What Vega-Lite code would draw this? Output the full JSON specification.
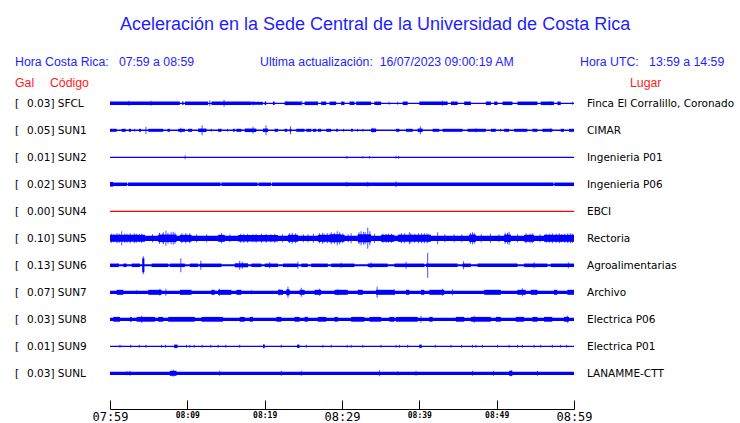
{
"$schema":"https://vega.github.io/schema/vega-lite/v6.json",
"width":464,"height":409,
"autosize":{"type":"none"},
"padding":{"left":110,"top":0,"right":166,"bottom":14},
"background":"white",
"config":{"view":{"stroke":null},"scale":{"continuousPadding":0},
 "axisX":{"grid":false,"domain":true,"domainColor":"black","domainWidth":1,"tickColor":"black","tickSize":-9,"labelFlush":false,"labelOverlap":false,"labelBaseline":"top","labelPadding":11,"labelColor":"black","labelFont":"DejaVu Sans Mono","titleColor":"rgba(0,0,0,0)"},
 "axisY":{"disable":true}},
"datasets":{
"stations":[
{"s":"SFCL","i":1,"lab":"0.03] SFCL","lugar":"Finca El Corralillo, Coronado"},
{"s":"SUN1","i":2,"lab":"0.05] SUN1","lugar":"CIMAR"},
{"s":"SUN2","i":3,"lab":"0.01] SUN2","lugar":"Ingenieria P01"},
{"s":"SUN3","i":4,"lab":"0.02] SUN3","lugar":"Ingenieria P06"},
{"s":"SUN4","i":5,"lab":"0.00] SUN4","lugar":"EBCI"},
{"s":"SUN5","i":6,"lab":"0.10] SUN5","lugar":"Rectoria"},
{"s":"SUN6","i":7,"lab":"0.13] SUN6","lugar":"Agroalimentarias"},
{"s":"SUN7","i":8,"lab":"0.07] SUN7","lugar":"Archivo"},
{"s":"SUN8","i":9,"lab":"0.03] SUN8","lugar":"Electrica P06"},
{"s":"SUN9","i":10,"lab":"0.01] SUN9","lugar":"Electrica P01"},
{"s":"SUNL","i":11,"lab":"0.03] SUNL","lugar":"LANAMME-CTT"}],
"segs":[
{"s":"SFCL","t0":0,"t1":60,"a":1.3},{"s":"SFCL","t0":0,"t1":9.03,"a":3.5},{"s":"SFCL","t0":9.33,"t1":9.5,"a":3.5},{"s":"SFCL","t0":9.68,"t1":12.69,"a":3.5},{"s":"SFCL","t0":13.12,"t1":18.28,"a":3.5},{"s":"SFCL","t0":18.28,"t1":19.78,"a":3},{"s":"SFCL","t0":20.0,"t1":20.2,"a":3.5},{"s":"SFCL","t0":21.07,"t1":21.29,"a":3.5},{"s":"SFCL","t0":22.58,"t1":24.73,"a":3.5},{"s":"SFCL","t0":25.16,"t1":26.88,"a":3.5},{"s":"SFCL","t0":27.31,"t1":27.96,"a":3.5},{"s":"SFCL","t0":28.39,"t1":29.25,"a":3.5},{"s":"SFCL","t0":29.89,"t1":30.32,"a":3.5},{"s":"SFCL","t0":30.97,"t1":31.61,"a":3.5},{"s":"SFCL","t0":31.83,"t1":33.76,"a":3.5},{"s":"SFCL","t0":34.19,"t1":35.05,"a":3.5},{"s":"SFCL","t0":37.85,"t1":38.49,"a":3.5},{"s":"SFCL","t0":40.0,"t1":43.66,"a":3.5},{"s":"SFCL","t0":44.09,"t1":44.95,"a":3.5},{"s":"SFCL","t0":45.8,"t1":46.67,"a":3.5},{"s":"SFCL","t0":48.6,"t1":49.25,"a":3.5},{"s":"SFCL","t0":49.68,"t1":50.1,"a":3.5},{"s":"SFCL","t0":50.75,"t1":52.04,"a":3.5},{"s":"SFCL","t0":52.69,"t1":55.27,"a":3.5},{"s":"SFCL","t0":55.7,"t1":57.42,"a":3.5},{"s":"SFCL","t0":57.85,"t1":58.28,"a":3.5},
{"s":"SUN1","t0":0,"t1":60,"a":1.5},{"s":"SUN1","t0":0,"t1":0.86,"a":3},{"s":"SUN1","t0":1.5,"t1":2.02,"a":3},{"s":"SUN1","t0":2.45,"t1":2.71,"a":3},{"s":"SUN1","t0":3.74,"t1":4.0,"a":3},{"s":"SUN1","t0":4.95,"t1":6.88,"a":3},{"s":"SUN1","t0":7.44,"t1":7.74,"a":3},{"s":"SUN1","t0":8.82,"t1":9.68,"a":3},{"s":"SUN1","t0":10.1,"t1":10.62,"a":3},{"s":"SUN1","t0":11.4,"t1":12.47,"a":3.5},{"s":"SUN1","t0":13.98,"t1":14.41,"a":3},{"s":"SUN1","t0":15.91,"t1":16.13,"a":3},{"s":"SUN1","t0":16.34,"t1":16.99,"a":3},{"s":"SUN1","t0":17.42,"t1":18.92,"a":3.5},{"s":"SUN1","t0":19.78,"t1":20.43,"a":3.5},{"s":"SUN1","t0":21.29,"t1":21.72,"a":3},{"s":"SUN1","t0":22.58,"t1":22.92,"a":3},{"s":"SUN1","t0":23.23,"t1":23.44,"a":3},{"s":"SUN1","t0":24.09,"t1":25.16,"a":3},{"s":"SUN1","t0":25.38,"t1":26.02,"a":3},{"s":"SUN1","t0":26.24,"t1":26.67,"a":3},{"s":"SUN1","t0":26.88,"t1":27.31,"a":3},{"s":"SUN1","t0":27.96,"t1":28.6,"a":3},{"s":"SUN1","t0":29.25,"t1":29.46,"a":3},{"s":"SUN1","t0":31.18,"t1":31.4,"a":3},{"s":"SUN1","t0":33.76,"t1":34.41,"a":3.5},{"s":"SUN1","t0":36.99,"t1":37.42,"a":3},{"s":"SUN1","t0":38.28,"t1":39.14,"a":3},{"s":"SUN1","t0":39.78,"t1":40.43,"a":3.5},{"s":"SUN1","t0":41.72,"t1":42.58,"a":3},{"s":"SUN1","t0":43.01,"t1":45.59,"a":3},{"s":"SUN1","t0":46.24,"t1":48.6,"a":3},{"s":"SUN1","t0":49.25,"t1":49.89,"a":3},{"s":"SUN1","t0":50.97,"t1":51.61,"a":3},{"s":"SUN1","t0":52.26,"t1":53.98,"a":3},{"s":"SUN1","t0":54.62,"t1":55.27,"a":3},{"s":"SUN1","t0":55.91,"t1":57.2,"a":3},{"s":"SUN1","t0":58.28,"t1":58.71,"a":3},{"s":"SUN1","t0":59.35,"t1":60,"a":3},
{"s":"SUN2","t0":0,"t1":60,"a":1.3},
{"s":"SUN3","t0":0,"t1":60,"a":1.3},{"s":"SUN3","t0":0,"t1":0.4,"a":4.5},{"s":"SUN3","t0":0,"t1":2.2,"a":3.5},{"s":"SUN3","t0":2.3,"t1":14.3,"a":3.5},{"s":"SUN3","t0":14.4,"t1":19.1,"a":3.5},{"s":"SUN3","t0":19.2,"t1":20.85,"a":3.5},{"s":"SUN3","t0":20.95,"t1":57.35,"a":3.5},{"s":"SUN3","t0":57.45,"t1":60,"a":3.5},
{"s":"SUN4","t0":0,"t1":60,"a":1.3},
{"s":"SUN5","t0":0,"t1":60,"a":5.3},{"s":"SUN5","t0":0,"t1":4.52,"a":7},{"s":"SUN5","t0":6.24,"t1":8.6,"a":7.5},{"s":"SUN5","t0":9.03,"t1":10.54,"a":7},{"s":"SUN5","t0":13.98,"t1":14.84,"a":7},{"s":"SUN5","t0":16.56,"t1":21.72,"a":6.5},{"s":"SUN5","t0":23.01,"t1":24.3,"a":7},{"s":"SUN5","t0":26.88,"t1":30.32,"a":7},{"s":"SUN5","t0":28.39,"t1":29.89,"a":8},{"s":"SUN5","t0":32.04,"t1":33.76,"a":8},{"s":"SUN5","t0":35.05,"t1":36.77,"a":7},{"s":"SUN5","t0":37.2,"t1":41.5,"a":7},{"s":"SUN5","t0":46.45,"t1":47.31,"a":7.5},{"s":"SUN5","t0":50.97,"t1":51.83,"a":7.5},{"s":"SUN5","t0":53.55,"t1":54.84,"a":7},{"s":"SUN5","t0":56.13,"t1":60,"a":7},
{"s":"SUN6","t0":0,"t1":60,"a":2},{"s":"SUN6","t0":0,"t1":1.08,"a":3.5},{"s":"SUN6","t0":1.72,"t1":2.15,"a":3.5},{"s":"SUN6","t0":2.8,"t1":3.87,"a":3.5},{"s":"SUN6","t0":4.17,"t1":4.45,"a":14},{"s":"SUN6","t0":5.38,"t1":7.53,"a":3.5},{"s":"SUN6","t0":7.74,"t1":9.68,"a":3.5},{"s":"SUN6","t0":10.32,"t1":11.4,"a":3.5},{"s":"SUN6","t0":11.61,"t1":14.41,"a":3.5},{"s":"SUN6","t0":16.13,"t1":17.85,"a":4},{"s":"SUN6","t0":18.28,"t1":19.57,"a":3.5},{"s":"SUN6","t0":20.0,"t1":21.72,"a":3.5},{"s":"SUN6","t0":22.37,"t1":24.3,"a":3.5},{"s":"SUN6","t0":24.73,"t1":25.59,"a":3.5},{"s":"SUN6","t0":26.02,"t1":28.17,"a":3.5},{"s":"SUN6","t0":28.6,"t1":31.61,"a":3.5},{"s":"SUN6","t0":33.33,"t1":35.91,"a":3.5},{"s":"SUN6","t0":36.77,"t1":40.65,"a":3.5},{"s":"SUN6","t0":40.86,"t1":44.95,"a":3.5},{"s":"SUN6","t0":45.59,"t1":46.67,"a":3.5},{"s":"SUN6","t0":47.53,"t1":52.69,"a":3.5},{"s":"SUN6","t0":53.55,"t1":56.56,"a":3.5},{"s":"SUN6","t0":56.99,"t1":60,"a":3.5},
{"s":"SUN7","t0":0,"t1":60,"a":3.3},{"s":"SUN7","t0":0.86,"t1":1.72,"a":5},{"s":"SUN7","t0":4.95,"t1":6.67,"a":5},{"s":"SUN7","t0":9.03,"t1":10.54,"a":5},{"s":"SUN7","t0":13.12,"t1":13.55,"a":5},{"s":"SUN7","t0":13.98,"t1":15.7,"a":5},{"s":"SUN7","t0":16.34,"t1":16.99,"a":5},{"s":"SUN7","t0":21.72,"t1":22.37,"a":5},{"s":"SUN7","t0":22.8,"t1":23.23,"a":6},{"s":"SUN7","t0":24.52,"t1":25.16,"a":5},{"s":"SUN7","t0":26.45,"t1":27.31,"a":5},{"s":"SUN7","t0":29.03,"t1":30.75,"a":5},{"s":"SUN7","t0":32.04,"t1":32.69,"a":5},{"s":"SUN7","t0":34.41,"t1":36.77,"a":5},{"s":"SUN7","t0":38.28,"t1":38.71,"a":5},{"s":"SUN7","t0":40.22,"t1":40.65,"a":5},{"s":"SUN7","t0":41.29,"t1":43.23,"a":5},{"s":"SUN7","t0":48.39,"t1":50.54,"a":5},{"s":"SUN7","t0":52.69,"t1":53.76,"a":5},{"s":"SUN7","t0":54.41,"t1":55.27,"a":5},{"s":"SUN7","t0":57.42,"t1":57.85,"a":5},{"s":"SUN7","t0":59.14,"t1":60,"a":5},
{"s":"SUN8","t0":0,"t1":60,"a":3.3},{"s":"SUN8","t0":0.43,"t1":1.29,"a":4.8},{"s":"SUN8","t0":2.58,"t1":2.8,"a":4.8},{"s":"SUN8","t0":3.44,"t1":5.81,"a":4.8},{"s":"SUN8","t0":6.24,"t1":6.88,"a":4.8},{"s":"SUN8","t0":7.53,"t1":10.97,"a":4.8},{"s":"SUN8","t0":11.83,"t1":14.62,"a":4.8},{"s":"SUN8","t0":16.77,"t1":17.42,"a":4.8},{"s":"SUN8","t0":18.06,"t1":18.49,"a":4.8},{"s":"SUN8","t0":21.51,"t1":22.15,"a":4.8},{"s":"SUN8","t0":23.87,"t1":24.52,"a":4.8},{"s":"SUN8","t0":25.16,"t1":25.59,"a":4.8},{"s":"SUN8","t0":26.88,"t1":27.96,"a":4.8},{"s":"SUN8","t0":29.03,"t1":29.46,"a":4.8},{"s":"SUN8","t0":31.18,"t1":32.9,"a":4.8},{"s":"SUN8","t0":33.55,"t1":35.05,"a":4.8},{"s":"SUN8","t0":36.13,"t1":36.77,"a":4.8},{"s":"SUN8","t0":36.99,"t1":39.78,"a":4.8},{"s":"SUN8","t0":41.29,"t1":41.72,"a":4.8},{"s":"SUN8","t0":44.73,"t1":45.81,"a":4.8},{"s":"SUN8","t0":46.67,"t1":49.25,"a":4.8},{"s":"SUN8","t0":49.89,"t1":50.54,"a":4.8},{"s":"SUN8","t0":52.47,"t1":53.55,"a":4.8},{"s":"SUN8","t0":54.62,"t1":55.27,"a":4.8},{"s":"SUN8","t0":56.13,"t1":57.2,"a":4.8},{"s":"SUN8","t0":58.71,"t1":59.35,"a":4.8},
{"s":"SUN9","t0":0,"t1":60,"a":1.3},{"s":"SUN9","t0":8.3,"t1":8.73,"a":3.5},{"s":"SUN9","t0":19.8,"t1":20.0,"a":4},{"s":"SUN9","t0":24.2,"t1":24.5,"a":3.5},{"s":"SUN9","t0":40.0,"t1":40.3,"a":3.5},
{"s":"SUNL","t0":0,"t1":60,"a":3.3},{"s":"SUNL","t0":7.74,"t1":8.6,"a":5},{"s":"SUNL","t0":51.61,"t1":52.04,"a":5}],
"spikes":[
{"s":"SFCL","t":2.45,"a":5},{"s":"SFCL","t":5.29,"a":5},{"s":"SFCL","t":12.9,"a":6},{"s":"SFCL","t":14.75,"a":7},{"s":"SFCL","t":18.5,"a":4},{"s":"SFCL","t":22.9,"a":4},{"s":"SFCL","t":24.8,"a":5},{"s":"SFCL","t":26.75,"a":4},{"s":"SFCL","t":36.1,"a":3},{"s":"SFCL","t":37.2,"a":3},{"s":"SFCL","t":43.0,"a":5},{"s":"SFCL","t":57.0,"a":4},{"s":"SFCL","t":59.8,"a":3},
{"s":"SUN1","t":3.2,"a":3},{"s":"SUN1","t":4.65,"a":7},{"s":"SUN1","t":9.16,"a":5},{"s":"SUN1","t":11.91,"a":10},{"s":"SUN1","t":13.1,"a":3},{"s":"SUN1","t":15.2,"a":3},{"s":"SUN1","t":18.49,"a":7},{"s":"SUN1","t":20.17,"a":10},{"s":"SUN1","t":23.35,"a":8},{"s":"SUN1","t":30.2,"a":3},{"s":"SUN1","t":32.0,"a":3},{"s":"SUN1","t":32.7,"a":3},{"s":"SUN1","t":33.98,"a":5},{"s":"SUN1","t":40.13,"a":8},{"s":"SUN1","t":47.31,"a":4},{"s":"SUN1","t":50.5,"a":3},{"s":"SUN1","t":56.99,"a":4},
{"s":"SUN2","t":9.72,"a":4},{"s":"SUN2","t":30.62,"a":3},{"s":"SUN2","t":32.69,"a":2.5},{"s":"SUN2","t":33.55,"a":2.5},{"s":"SUN2","t":36.99,"a":3},{"s":"SUN2","t":37.33,"a":3},
{"s":"SUN3","t":30.62,"a":5},{"s":"SUN3","t":33.33,"a":5},{"s":"SUN3","t":36.99,"a":6},
{"s":"SUN5","t":0.2,"a":9},{"s":"SUN5","t":0.5,"a":8},{"s":"SUN5","t":0.9,"a":10},{"s":"SUN5","t":1.2,"a":9},{"s":"SUN5","t":1.51,"a":14},{"s":"SUN5","t":1.9,"a":9},{"s":"SUN5","t":2.2,"a":9},{"s":"SUN5","t":2.6,"a":10},{"s":"SUN5","t":3.14,"a":10},{"s":"SUN5","t":3.4,"a":9},{"s":"SUN5","t":3.8,"a":8},{"s":"SUN5","t":4.1,"a":9},{"s":"SUN5","t":5.5,"a":8},{"s":"SUN5","t":6.4,"a":11},{"s":"SUN5","t":6.8,"a":9},{"s":"SUN5","t":6.9,"a":12},{"s":"SUN5","t":7.23,"a":15},{"s":"SUN5","t":7.5,"a":11},{"s":"SUN5","t":7.9,"a":12},{"s":"SUN5","t":8.17,"a":13},{"s":"SUN5","t":8.4,"a":11},{"s":"SUN5","t":9.3,"a":10},{"s":"SUN5","t":9.8,"a":10},{"s":"SUN5","t":10.32,"a":10},{"s":"SUN5","t":11.2,"a":8},{"s":"SUN5","t":12.5,"a":8},{"s":"SUN5","t":14.41,"a":10},{"s":"SUN5","t":15.5,"a":8},{"s":"SUN5","t":16.9,"a":9},{"s":"SUN5","t":17.3,"a":9},{"s":"SUN5","t":17.8,"a":9},{"s":"SUN5","t":18.49,"a":8},{"s":"SUN5","t":18.9,"a":9},{"s":"SUN5","t":19.6,"a":9},{"s":"SUN5","t":20.2,"a":9},{"s":"SUN5","t":20.8,"a":8},{"s":"SUN5","t":21.3,"a":9},{"s":"SUN5","t":22.3,"a":8},{"s":"SUN5","t":23.2,"a":10},{"s":"SUN5","t":23.57,"a":11},{"s":"SUN5","t":24.0,"a":10},{"s":"SUN5","t":25.0,"a":8},{"s":"SUN5","t":25.59,"a":8},{"s":"SUN5","t":26.3,"a":9},{"s":"SUN5","t":27.1,"a":10},{"s":"SUN5","t":27.5,"a":11},{"s":"SUN5","t":27.7,"a":9},{"s":"SUN5","t":28.1,"a":10},{"s":"SUN5","t":28.6,"a":12},{"s":"SUN5","t":29.0,"a":11},{"s":"SUN5","t":29.38,"a":14},{"s":"SUN5","t":29.7,"a":12},{"s":"SUN5","t":30.1,"a":10},{"s":"SUN5","t":30.8,"a":8},{"s":"SUN5","t":31.18,"a":10},{"s":"SUN5","t":32.2,"a":12},{"s":"SUN5","t":32.47,"a":14},{"s":"SUN5","t":32.8,"a":13},{"s":"SUN5","t":33.0,"a":12},{"s":"SUN5","t":33.33,"a":21},{"s":"SUN5","t":33.6,"a":14},{"s":"SUN5","t":34.2,"a":9},{"s":"SUN5","t":35.3,"a":9},{"s":"SUN5","t":35.7,"a":9},{"s":"SUN5","t":36.0,"a":9},{"s":"SUN5","t":36.4,"a":9},{"s":"SUN5","t":37.5,"a":8},{"s":"SUN5","t":37.7,"a":10},{"s":"SUN5","t":38.1,"a":10},{"s":"SUN5","t":38.71,"a":12},{"s":"SUN5","t":38.9,"a":10},{"s":"SUN5","t":39.4,"a":9},{"s":"SUN5","t":39.9,"a":10},{"s":"SUN5","t":40.3,"a":10},{"s":"SUN5","t":40.65,"a":10},{"s":"SUN5","t":41.0,"a":10},{"s":"SUN5","t":41.2,"a":8},{"s":"SUN5","t":42.37,"a":12},{"s":"SUN5","t":43.3,"a":8},{"s":"SUN5","t":44.5,"a":8},{"s":"SUN5","t":45.5,"a":8},{"s":"SUN5","t":46.6,"a":11},{"s":"SUN5","t":46.88,"a":12},{"s":"SUN5","t":47.1,"a":11},{"s":"SUN5","t":48.0,"a":8},{"s":"SUN5","t":49.2,"a":9},{"s":"SUN5","t":50.3,"a":8},{"s":"SUN5","t":51.1,"a":11},{"s":"SUN5","t":51.4,"a":11},{"s":"SUN5","t":51.61,"a":13},{"s":"SUN5","t":52.7,"a":8},{"s":"SUN5","t":53.8,"a":10},{"s":"SUN5","t":54.32,"a":9},{"s":"SUN5","t":54.6,"a":10},{"s":"SUN5","t":55.6,"a":8},{"s":"SUN5","t":56.4,"a":9},{"s":"SUN5","t":56.8,"a":9},{"s":"SUN5","t":57.2,"a":10},{"s":"SUN5","t":57.7,"a":9},{"s":"SUN5","t":58.1,"a":10},{"s":"SUN5","t":58.4,"a":8},{"s":"SUN5","t":58.8,"a":9},{"s":"SUN5","t":59.2,"a":10},{"s":"SUN5","t":59.57,"a":10},{"s":"SUN5","t":59.8,"a":9},
{"s":"SUN6","t":1.08,"a":4},{"s":"SUN6","t":4.3,"a":18},{"s":"SUN6","t":9.16,"a":14},{"s":"SUN6","t":11.74,"a":9},{"s":"SUN6","t":16.77,"a":9},{"s":"SUN6","t":17.1,"a":7},{"s":"SUN6","t":20.65,"a":6},{"s":"SUN6","t":24.3,"a":7},{"s":"SUN6","t":29.9,"a":5},{"s":"SUN6","t":33.76,"a":6},{"s":"SUN6","t":38.28,"a":7},{"s":"SUN6","t":41.08,"a":25},{"s":"SUN6","t":45.72,"a":8},{"s":"SUN6","t":54.84,"a":6},{"s":"SUN6","t":59.27,"a":6},
{"s":"SUN7","t":3.44,"a":4},{"s":"SUN7","t":6.45,"a":7},{"s":"SUN7","t":7.23,"a":7},{"s":"SUN7","t":14.15,"a":7},{"s":"SUN7","t":18.28,"a":4},{"s":"SUN7","t":21.94,"a":6},{"s":"SUN7","t":23.01,"a":11},{"s":"SUN7","t":24.73,"a":9},{"s":"SUN7","t":27.1,"a":7},{"s":"SUN7","t":29.46,"a":6},{"s":"SUN7","t":34.54,"a":11},{"s":"SUN7","t":36.77,"a":6},{"s":"SUN7","t":43.01,"a":7},{"s":"SUN7","t":44.3,"a":6},{"s":"SUN7","t":53.33,"a":8},
{"s":"SUN8","t":4.09,"a":7},{"s":"SUN8","t":40.22,"a":7},{"s":"SUN8","t":47.1,"a":7},{"s":"SUN8","t":59.14,"a":7},
{"s":"SUN9","t":1.29,"a":3},{"s":"SUN9","t":2.67,"a":3},{"s":"SUN9","t":3.78,"a":3},{"s":"SUN9","t":4.65,"a":3},{"s":"SUN9","t":6.67,"a":3},{"s":"SUN9","t":7.18,"a":3},{"s":"SUN9","t":9.89,"a":3},{"s":"SUN9","t":10.32,"a":3},{"s":"SUN9","t":10.88,"a":3},{"s":"SUN9","t":11.91,"a":3},{"s":"SUN9","t":13.03,"a":3},{"s":"SUN9","t":13.98,"a":3},{"s":"SUN9","t":14.97,"a":3},{"s":"SUN9","t":16.77,"a":3},{"s":"SUN9","t":22.15,"a":3},{"s":"SUN9","t":25.38,"a":3},{"s":"SUN9","t":27.53,"a":3},{"s":"SUN9","t":28.6,"a":3},{"s":"SUN9","t":30.67,"a":3},{"s":"SUN9","t":31.18,"a":3},{"s":"SUN9","t":32.69,"a":3},{"s":"SUN9","t":35.05,"a":3},{"s":"SUN9","t":36.99,"a":3},{"s":"SUN9","t":37.42,"a":3},{"s":"SUN9","t":38.49,"a":3},{"s":"SUN9","t":42.06,"a":3},{"s":"SUN9","t":44.09,"a":3},{"s":"SUN9","t":45.46,"a":3},{"s":"SUN9","t":46.88,"a":3},{"s":"SUN9","t":47.31,"a":3},{"s":"SUN9","t":48.17,"a":3},{"s":"SUN9","t":50.11,"a":3},{"s":"SUN9","t":51.61,"a":3},{"s":"SUN9","t":52.69,"a":3},{"s":"SUN9","t":53.33,"a":3},{"s":"SUN9","t":54.84,"a":3},{"s":"SUN9","t":55.7,"a":3},{"s":"SUN9","t":57.2,"a":3},{"s":"SUN9","t":58.28,"a":3},{"s":"SUN9","t":59.05,"a":3},
{"s":"SUNL","t":2.15,"a":4},{"s":"SUNL","t":2.58,"a":5},{"s":"SUNL","t":8.17,"a":7},{"s":"SUNL","t":14.19,"a":5},{"s":"SUNL","t":22.15,"a":5},{"s":"SUNL","t":24.73,"a":5},{"s":"SUNL","t":34.84,"a":6},{"s":"SUNL","t":37.2,"a":4},{"s":"SUNL","t":39.57,"a":5},{"s":"SUNL","t":46.88,"a":5},{"s":"SUNL","t":49.59,"a":5},{"s":"SUNL","t":51.91,"a":6},{"s":"SUNL","t":55.27,"a":5}]
},
"layer":[
{"data":{"name":"segs"},
 "transform":[{"lookup":"s","from":{"data":{"name":"stations"},"key":"s","fields":["i"]}}],
 "mark":{"type":"bar","orient":"horizontal"},
 "encoding":{
  "x":{"field":"t0","type":"quantitative","scale":{"domain":[0,60],"nice":false,"zero":false,"padding":0},
   "axis":{"values":[0,5,10,15,20,25,30,35,40,45,50,55,60],"title":null,"grid":false,"domain":true,"domainColor":"black","tickSize":-9,"labelFlush":false,"labelOverlap":false,"labelBaseline":"top","labelPadding":11,
    "labelExpr":"datum.value % 10 == 0 ? pad(''+floor((479+datum.value)/60),2,'0','left') + ':' + pad(''+((479+datum.value)%60),2,'0','left') : ''",
    "labelFontSize":{"condition":{"test":"datum.value % 30 == 0","value":12},"value":8},
    "labelFontWeight":{"condition":{"test":"datum.value % 30 == 0","value":"normal"},"value":"bold"}}},
  "x2":{"field":"t1"},
  "y":{"field":"i","type":"quantitative","scale":{"domain":[-2.826,12.322],"nice":false,"zero":false,"reverse":true,"padding":0},"axis":null},
  "size":{"field":"a","type":"quantitative","scale":{"domain":[0,30],"range":[0,30]},"legend":null},
  "color":{"field":"s","type":"nominal","scale":{"domain":["SFCL","SUN1","SUN2","SUN3","SUN4","SUN5","SUN6","SUN7","SUN8","SUN9","SUNL"],"range":["#0000ff","#0000ff","#0000ff","#0000ff","#ff0000","#0000ff","#0000ff","#0000ff","#0000ff","#0000ff","#0000ff"]},"legend":null}}},
{"data":{"name":"spikes"},
 "transform":[{"lookup":"s","from":{"data":{"name":"stations"},"key":"s","fields":["i"]}}],
 "mark":{"type":"tick","orient":"vertical","thickness":1},
 "encoding":{
  "x":{"field":"t","type":"quantitative"},
  "y":{"field":"i","type":"quantitative","axis":null},
  "size":{"field":"a","type":"quantitative","scale":{"domain":[0,30],"range":[0,30]},"legend":null},
  "color":{"field":"s","type":"nominal","legend":null}}},
{"data":{"name":"stations"},
 "mark":{"type":"text","text":"[","font":"DejaVu Sans","fontSize":10.5,"color":"black","align":"left","baseline":"middle","dy":1},
 "encoding":{
  "x":{"datum":-12.28,"type":"quantitative"},
  "y":{"field":"i","type":"quantitative","axis":null}}},
{"data":{"name":"stations"},
 "mark":{"type":"text","font":"DejaVu Sans","fontSize":10.5,"color":"black","align":"left","baseline":"middle","dy":1},
 "encoding":{
  "x":{"datum":-10.73,"type":"quantitative"},
  "y":{"field":"i","type":"quantitative","axis":null},
  "text":{"field":"lab"}}},
{"data":{"name":"stations"},
 "mark":{"type":"text","font":"DejaVu Sans","fontSize":10.5,"color":"black","align":"left","baseline":"middle","dy":1},
 "encoding":{
  "x":{"datum":61.68,"type":"quantitative"},
  "y":{"field":"i","type":"quantitative","axis":null},
  "text":{"field":"lugar"}}},
{"data":{"values":[{"txt":"Aceleración en la Sede Central de la Universidad de Costa Rica"}]},
 "mark":{"type":"text","font":"Liberation Sans","fontSize":18,"color":"#1e1eff","align":"center","baseline":"middle"},
 "encoding":{
  "x":{"datum":34.27,"type":"quantitative"},
  "y":{"datum":-1.89,"type":"quantitative","axis":null},
  "text":{"field":"txt"}}},
{"data":{"values":[{"txt":"Hora Costa Rica:\u00a0\u00a0\u00a007:59 a 08:59"}]},
 "mark":{"type":"text","font":"Liberation Sans","fontSize":12.3,"color":"#1e1eff","align":"left","baseline":"middle"},
 "encoding":{
  "x":{"datum":-12.28,"type":"quantitative"},
  "y":{"datum":-0.519,"type":"quantitative","axis":null},
  "text":{"field":"txt"}}},
{"data":{"values":[{"txt":"Ultima actualización:\u00a0\u00a016/07/2023 09:00:19 AM"}]},
 "mark":{"type":"text","font":"Liberation Sans","fontSize":12.3,"color":"#1e1eff","align":"left","baseline":"middle"},
 "encoding":{
  "x":{"datum":19.4,"type":"quantitative"},
  "y":{"datum":-0.519,"type":"quantitative","axis":null},
  "text":{"field":"txt"}}},
{"data":{"values":[{"txt":"Hora UTC:\u00a0\u00a0\u00a013:59 a 14:59"}]},
 "mark":{"type":"text","font":"Liberation Sans","fontSize":12.3,"color":"#1e1eff","align":"left","baseline":"middle"},
 "encoding":{
  "x":{"datum":60.78,"type":"quantitative"},
  "y":{"datum":-0.519,"type":"quantitative","axis":null},
  "text":{"field":"txt"}}},
{"data":{"values":[{"txt":"Gal"}]},
 "mark":{"type":"text","font":"Liberation Sans","fontSize":12.3,"color":"#ff1a1a","align":"left","baseline":"middle"},
 "encoding":{
  "x":{"datum":-12.28,"type":"quantitative"},
  "y":{"datum":0.241,"type":"quantitative","axis":null},
  "text":{"field":"txt"}}},
{"data":{"values":[{"txt":"Código"}]},
 "mark":{"type":"text","font":"Liberation Sans","fontSize":12.3,"color":"#ff1a1a","align":"left","baseline":"middle"},
 "encoding":{
  "x":{"datum":-7.76,"type":"quantitative"},
  "y":{"datum":0.241,"type":"quantitative","axis":null},
  "text":{"field":"txt"}}},
{"data":{"values":[{"txt":"Lugar"}]},
 "mark":{"type":"text","font":"Liberation Sans","fontSize":12.3,"color":"#ff1a1a","align":"left","baseline":"middle"},
 "encoding":{
  "x":{"datum":67.24,"type":"quantitative"},
  "y":{"datum":0.241,"type":"quantitative","axis":null},
  "text":{"field":"txt"}}}
]
}
